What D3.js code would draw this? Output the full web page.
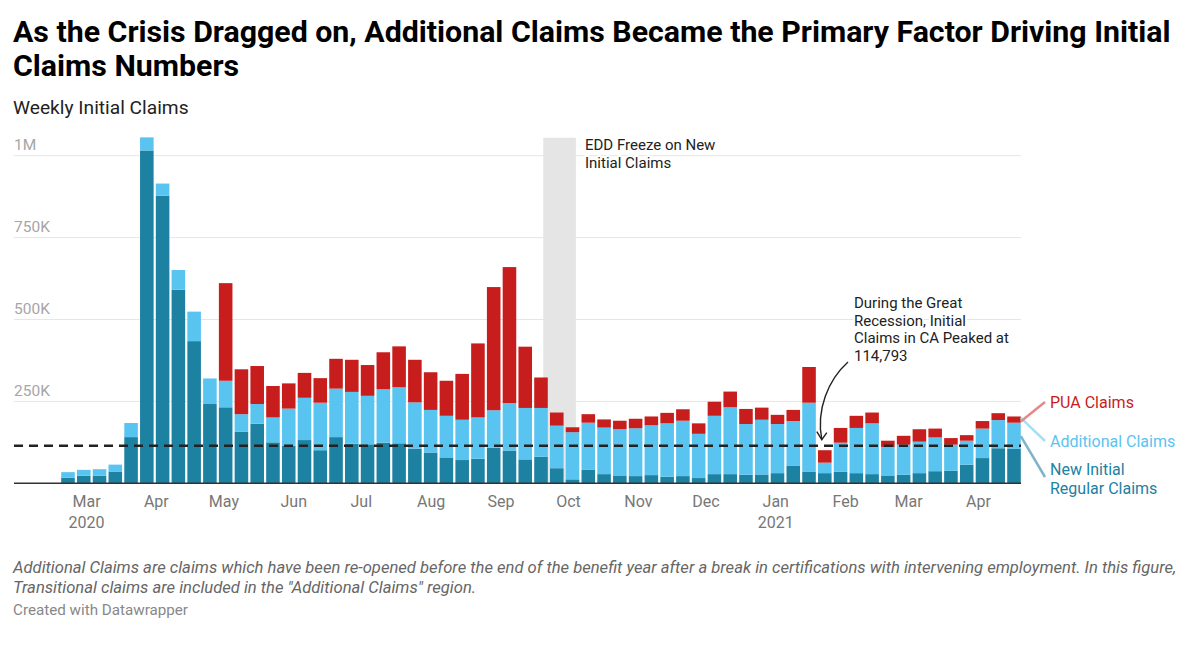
<!DOCTYPE html>
<html>
<head>
<meta charset="utf-8">
<script src="https://cdn.jsdelivr.net/npm/d3@7/dist/d3.min.js"></script>
<style>
  html, body { margin: 0; padding: 0; background: #fff; }
  svg { display: block; font-family: Roboto, "Noto Sans", sans-serif; }
</style>
</head>
<body>
<svg id="chart" width="1200" height="648"></svg>
<script>
// ---------- DATA ----------
const weeks = [
  "2020-02-22","2020-02-29","2020-03-07","2020-03-14","2020-03-21","2020-03-28",
  "2020-04-04","2020-04-11","2020-04-18","2020-04-25","2020-05-02","2020-05-09",
  "2020-05-16","2020-05-23","2020-05-30","2020-06-06","2020-06-13","2020-06-20",
  "2020-06-27","2020-07-04","2020-07-11","2020-07-18","2020-07-25","2020-08-01",
  "2020-08-08","2020-08-15","2020-08-22","2020-08-29","2020-09-05","2020-09-12",
  "2020-09-19","2020-09-26","2020-10-03","2020-10-10","2020-10-17","2020-10-24",
  "2020-10-31","2020-11-07","2020-11-14","2020-11-21","2020-11-28","2020-12-05",
  "2020-12-12","2020-12-19","2020-12-26","2021-01-02","2021-01-09","2021-01-16",
  "2021-01-23","2021-01-30","2021-02-06","2021-02-13","2021-02-20","2021-02-27",
  "2021-03-06","2021-03-13","2021-03-20","2021-03-27","2021-04-03","2021-04-10",
  "2021-04-17"
];
const newRegular = [
  17000,23000,23000,36000,141000,1016000,878000,591000,434000,242000,
  232000,157000,182000,125000,115000,132000,101000,141000,121000,119000,
  124000,122000,106000,94000,79000,71000,75000,109000,100000,73000,
  81000,46000,12000,41000,28000,24000,22000,25000,20000,22000,
  16000,28000,28000,26000,27000,31000,53000,36000,31000,35000,
  31000,28000,24000,26000,31000,37000,38000,57000,77000,107000,
  105000
];
const additional = [
  17000,18000,20000,21000,43000,40000,37000,60000,90000,78000,
  81000,54000,60000,76000,113000,129000,145000,148000,158000,148000,
  163000,171000,141000,130000,127000,123000,126000,114000,145000,157000,
  149000,130000,144000,144000,142000,141000,146000,152000,163000,169000,
  135000,178000,204000,155000,167000,150000,137000,210000,32000,89000,
  138000,155000,87000,92000,96000,103000,80000,73000,90000,86000,
  80000
];
const pua = [
  0,0,0,0,0,0,0,0,0,0,
  298000,137000,116000,96000,77000,76000,75000,91000,98000,94000,
  113000,125000,130000,115000,107000,140000,226000,376000,415000,187000,
  93000,40000,15000,26000,25000,26000,29000,27000,32000,35000,
  32000,43000,48000,46000,37000,28000,34000,109000,38000,45000,
  37000,33000,19000,27000,38000,27000,20000,17000,23000,21000,
  19000
];
const seriesKeys = ["newRegular","additional","pua"];
const seriesNames = { pua: "PUA Claims", additional: "Additional Claims", newRegular: ["New Initial","Regular Claims"] };
const yTicks = [250000, 500000, 750000, 1000000];
const yTickLabels = ["250K","500K","750K","1M"];
const monthTicks = ["2020-03-01","2020-04-01","2020-05-01","2020-06-01","2020-07-01","2020-08-01",
  "2020-09-01","2020-10-01","2020-11-01","2020-12-01","2021-01-01","2021-02-01","2021-03-01","2021-04-01"];
const monthLabels = ["Mar","Apr","May","Jun","Jul","Aug","Sep","Oct","Nov","Dec","Jan","Feb","Mar","Apr"];
const yearLabels = {"2020-03-01":"2020","2021-01-01":"2021"};
const recessionPeak = 114793;
const freezeRange = ["2020-09-20","2020-10-04T12:00"];

// ---------- STYLE / LAYOUT ----------
const colors = { newRegular: "#1d81a2", additional: "#5ac4f1", pua: "#c71e1d" };
const lineColors = { newRegular: "#7fb4c8", additional: "#a6def6", pua: "#e38a89" };
const plotLeft = 14, plotRight = 1021;
const parse = d3.isoParse;

const svg = d3.select("#chart");

// Titles
const title = svg.append("text").attr("x", 13).attr("y", 42)
  .attr("font-size", 30.3).attr("font-weight", 700).attr("fill", "#000");
title.append("tspan").attr("x", 13).text("As the Crisis Dragged on, Additional Claims Became the Primary Factor Driving Initial");
title.append("tspan").attr("x", 13).attr("dy", 34).text("Claims Numbers");

svg.append("text").attr("x", 13).attr("y", 114).attr("font-size", 19.2).attr("fill", "#222")
  .text("Weekly Initial Claims");

// Scales
const x = d3.scaleTime()
  .domain([parse(weeks[0]), parse(weeks[weeks.length - 1])])
  .range([68, 1014]);
const y = d3.scaleLinear().domain([0, 1000000]).range([483.3, 155.7]);

const weekW = x(parse(weeks[1])) - x(parse(weeks[0]));
const barW = weekW - 2.2;

// Gridlines
const grid = svg.append("g");
yTicks.forEach((t, i) => {
  grid.append("line").attr("x1", plotLeft).attr("x2", plotRight)
    .attr("y1", y(t)).attr("y2", y(t)).attr("stroke", "#e6e6e6").attr("stroke-width", 1);
  grid.append("text").attr("x", plotLeft).attr("y", y(t) - 5.5)
    .attr("font-size", 15.5).attr("fill", "#a6a6a6").text(yTickLabels[i]);
});

// Freeze band
svg.append("rect")
  .attr("x", x(parse(freezeRange[0])))
  .attr("width", x(parse(freezeRange[1])) - x(parse(freezeRange[0])))
  .attr("y", y(1055000)).attr("height", y(0) - y(1055000))
  .attr("fill", "#e5e5e5");

// Stacked bars
const table = weeks.map((w, i) => ({ date: parse(w), newRegular: newRegular[i], additional: additional[i], pua: pua[i] }));
const stacked = d3.stack().keys(seriesKeys)(table);
svg.append("g").selectAll("g").data(stacked).join("g")
  .attr("fill", d => colors[d.key])
  .selectAll("rect").data(d => d).join("rect")
  .attr("x", d => x(d.data.date) - barW / 2)
  .attr("width", barW)
  .attr("y", d => y(d[1]))
  .attr("height", d => Math.max(0, y(d[0]) - y(d[1])));

// Baseline
svg.append("line").attr("x1", plotLeft).attr("x2", plotRight)
  .attr("y1", y(0)).attr("y2", y(0)).attr("stroke", "#333").attr("stroke-width", 1.5);

// Dashed recession line
svg.append("line").attr("x1", plotLeft).attr("x2", plotRight)
  .attr("y1", y(recessionPeak)).attr("y2", y(recessionPeak))
  .attr("stroke", "#222").attr("stroke-width", 2.6).attr("stroke-dasharray", "9,6");

// X axis
const xAxis = d3.axisBottom(x)
  .tickValues(monthTicks.map(parse))
  .tickSize(0)
  .tickFormat((d, i) => monthLabels[i]);
const gx = svg.append("g").attr("transform", `translate(0, ${y(0)})`).call(xAxis);
gx.select(".domain").remove();
gx.selectAll("text").attr("font-size", 16).attr("fill", "#777")
  .attr("font-family", "Roboto, sans-serif").attr("dy", null).attr("y", 24);
gx.selectAll(".tick text").each(function(d, i) {
  const t = d3.select(this);
  const first = t.node().firstChild;
  if (first && first.nodeType === 3) {
    const txt = first.nodeValue; first.nodeValue = "";
    t.append("tspan").attr("x", 0).text(txt);
  }
  const yr = yearLabels[monthTicks[i]];
  if (yr) t.append("tspan").attr("x", 0).attr("dy", 21).text(yr);
});

// Freeze annotation
const fa = svg.append("text").attr("x", 585).attr("y", 150)
  .attr("font-size", 15).attr("fill", "#222")
  .attr("stroke", "#fff").attr("stroke-width", 4).attr("paint-order", "stroke").attr("stroke-linejoin", "round");
fa.append("tspan").attr("x", 585).text("EDD Freeze on New");
fa.append("tspan").attr("x", 585).attr("dy", 17.5).text("Initial Claims");

// Recession annotation
const ra = svg.append("text").attr("x", 854).attr("y", 308)
  .attr("font-size", 15).attr("fill", "#222")
  .attr("stroke", "#fff").attr("stroke-width", 4).attr("paint-order", "stroke").attr("stroke-linejoin", "round");
["During the Great","Recession, Initial","Claims in CA Peaked at","114,793"].forEach((l, i) => {
  ra.append("tspan").attr("x", 854).attr("dy", i === 0 ? 0 : 17.7).text(l);
});
const tipX = x(parse(weeks[48])) - 3, tipY = y(recessionPeak) - 6;
svg.append("path")
  .attr("d", `M848,362 C828,380 816,410 ${tipX},${tipY}`)
  .attr("fill", "none").attr("stroke", "#222").attr("stroke-width", 1.4);
svg.append("path")
  .attr("d", `M${tipX - 5},${tipY - 8} L${tipX},${tipY} L${tipX + 5},${tipY - 7}`)
  .attr("fill", "none").attr("stroke", "#222").attr("stroke-width", 1.4);

// Legend labels with connectors
const lastI = weeks.length - 1;
const lastX = x(parse(weeks[lastI])) + barW / 2;
const lastStack = {
  pua: (y(stacked[2][lastI][0]) + y(stacked[2][lastI][1])) / 2 + 2,
  additional: (y(stacked[1][lastI][0]) + y(stacked[1][lastI][1])) / 2 - 18,
  newRegular: (y(stacked[0][lastI][0]) + y(stacked[0][lastI][1])) / 2 - 30
};
const legendY = { pua: 402, additional: 441, newRegular: 477 };
const legendTextY = { pua: 407.5, additional: 447, newRegular: 475 };
seriesKeys.forEach(k => {
  svg.append("line").attr("x1", lastX).attr("y1", lastStack[k])
    .attr("x2", 1045).attr("y2", legendY[k])
    .attr("stroke", lineColors[k]).attr("stroke-width", 2.5);
  const t = svg.append("text").attr("x", 1050).attr("y", legendTextY[k])
    .attr("font-size", 16).attr("fill", colors[k]);
  const name = seriesNames[k];
  if (Array.isArray(name)) {
    name.forEach((n, i) => t.append("tspan").attr("x", 1050).attr("dy", i === 0 ? 0 : 18.5).text(n));
  } else t.text(name);
});

// Footnotes
const fn = svg.append("text").attr("x", 13).attr("y", 573)
  .attr("font-size", 16.6).attr("font-style", "italic").attr("fill", "#666");
fn.append("tspan").attr("x", 13).text("Additional Claims are claims which have been re-opened before the end of the benefit year after a break in certifications with intervening employment. In this figure,");
fn.append("tspan").attr("x", 13).attr("dy", 20).text("Transitional claims are included in the \"Additional Claims\" region.");

svg.append("text").attr("x", 13).attr("y", 615).attr("font-size", 15.2).attr("fill", "#888")
  .text("Created with Datawrapper");
</script>
</body>
</html>
